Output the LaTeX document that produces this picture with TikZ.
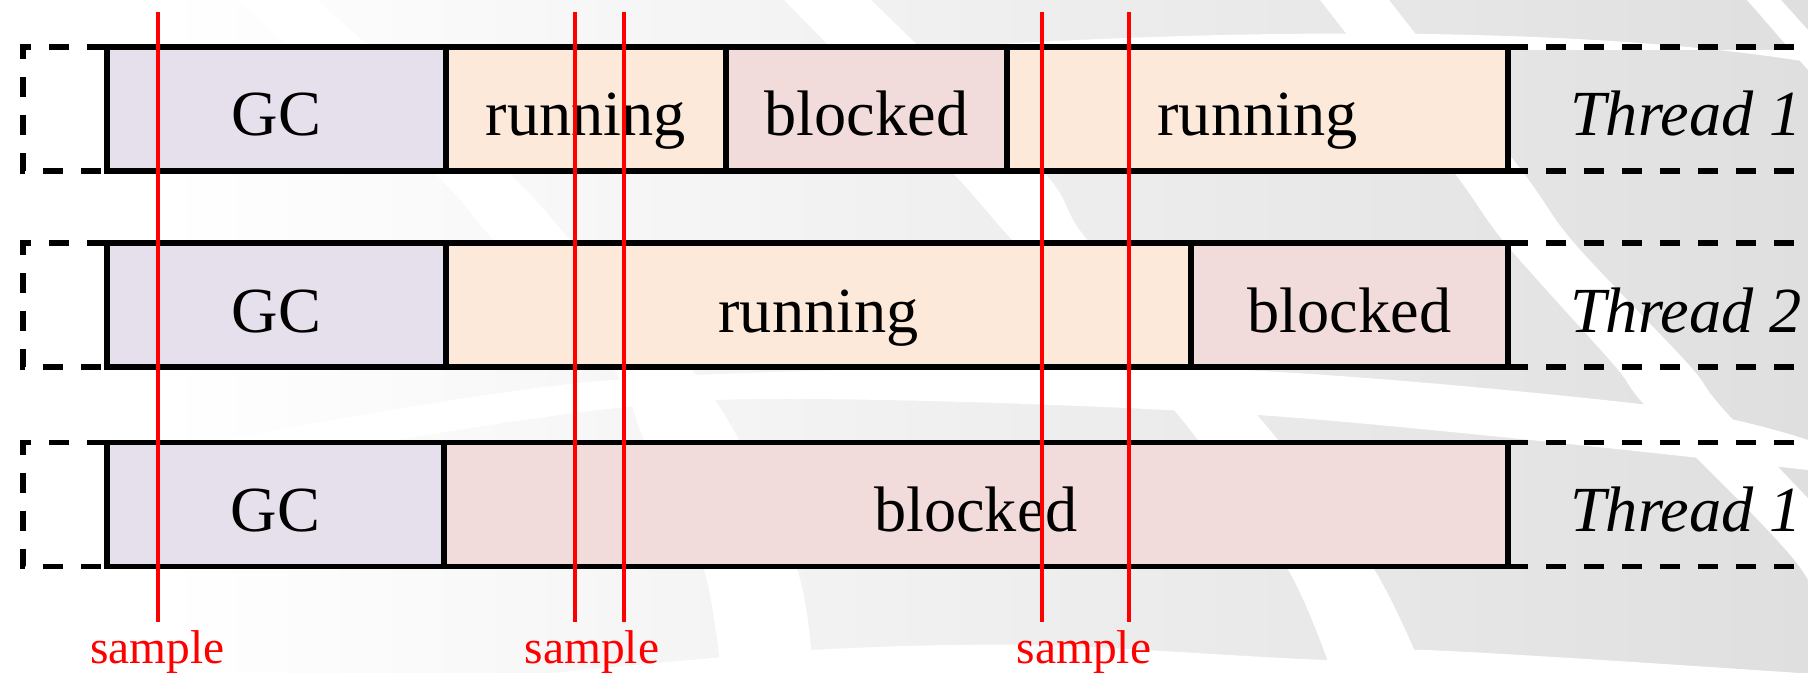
\documentclass[tikz,border=0pt]{standalone}
\usepackage{fontspec}
\setmainfont{Liberation Serif}
\usepackage{tikz}
\usetikzlibrary{positioning}
\usepackage{xcolor}
\definecolor{gcfill}{HTML}{E5E0EC}
\definecolor{runfill}{HTML}{FDE9D9}
\definecolor{blkfill}{HTML}{F2DCDB}
\definecolor{bggray}{HTML}{DFDFDF}

\begin{document}
\begin{tikzpicture}[
  cell/.style={draw=black, line width=1.7pt, minimum height=1.24cm, inner sep=0pt, outer sep=0pt,
    text height=0.54cm, text depth=0pt, font=\fontsize{18.3}{22}\selectfont},
  frame/.style={black, line width=1.7pt, dash pattern=on 0.2cm off 0.18cm},
  thread/.style={inner sep=0pt, text height=0.54cm, text depth=0pt, font=\fontsize{18.3}{22}\selectfont\itshape},
  sampleline/.style={red, line width=1.3pt},
  samplelbl/.style={red, anchor=base, inner sep=0pt, font=\fontsize{13.5}{16}\selectfont}]
\useasboundingbox (0,0) rectangle (18.08,-6.73);
%%%BACKGROUND
\shade[left color=white, right color=bggray] (1.6,0) rectangle (18.08,-6.73);
\fill[white] plot[smooth] coordinates {(2.36,0) (4.32,-1.71) (4.96,-2.43) (6.11,-3.65) (6.46,-4.45) (7.03,-5.66) (7.21,-6.73)}
  -- plot[smooth] coordinates {(8.13,-6.73) (7.96,-5.66) (7.15,-4.0) (5.73,-2.43) (5.07,-1.71) (3.17,0)} -- cycle;
\fill[white] plot[smooth] coordinates {(7.84,0) (9.51,-1.71) (10.15,-2.43) (11.70,-4.05) (12.86,-5.66) (13.32,-6.73)}
  -- plot[smooth] coordinates {(14.24,-6.73) (13.72,-5.66) (12.57,-4.15) (10.90,-2.43) (10.43,-1.71) (8.71,0)} -- cycle;
\fill[white] plot[smooth] coordinates {(13.20,0) (14.53,-1.71) (15.05,-2.43) (16.14,-3.65) (16.49,-4.10) (17.99,-5.66) (18.45,-6.73)}
  -- plot[smooth] coordinates {(19.2,-6.73) (18.68,-5.66) (17.24,-4.10) (16.89,-3.65) (15.74,-2.43) (15.22,-1.71) (13.89,0)} -- cycle;
\fill[white] (17.47,0) -- (17.81,0) -- (18.08,-0.3) -- (18.08,-0.7) -- cycle;
%%%SWOOSHES
\fill[white] (9.1,-0.5) .. controls (11.5,-0.32) and (15.5,-0.2) .. (18.08,-0.62) -- (18.08,-0.5) -- cycle;
\fill[white] plot[smooth] coordinates {(2.08,-4.43) (6.11,-3.80) (11.88,-3.68) (16.49,-4.05) (18.08,-4.40)}
  -- plot[smooth] coordinates {(18.08,-4.7) (12.57,-4.15) (7.15,-4.0) (3.7,-4.45)} -- cycle;
\fill[white] plot[smooth] coordinates {(5.53,-6.73) (8.13,-6.50) (10.38,-6.45) (13.32,-6.60) (14.24,-6.50) (17.99,-6.73)} -- cycle;
%%%THREAD ROWS
\node[cell, fill=gcfill, minimum width=3.39cm, anchor=west] (gc1) at (1.07,-1.09) {GC};
\node[cell, fill=runfill, minimum width=2.80cm, right=0pt of gc1] (run1a) {running};
\node[cell, fill=blkfill, minimum width=2.81cm, right=0pt of run1a] (blk1) {blocked};
\node[cell, fill=runfill, minimum width=5.01cm, right=0pt of blk1] (run1b) {running};
\node[cell, fill=gcfill, minimum width=3.39cm, anchor=west] (gc2) at (1.07,-3.05) {GC};
\node[cell, fill=runfill, minimum width=7.45cm, right=0pt of gc2] (run2) {running};
\node[cell, fill=blkfill, minimum width=3.17cm, right=0pt of run2] (blk2) {blocked};
\node[cell, fill=gcfill, minimum width=3.37cm, anchor=west] (gc3) at (1.07,-5.045) {GC};
\node[cell, fill=blkfill, minimum width=10.64cm, right=0pt of gc3] (blk3) {blocked};
%%%TIME OUTSIDE THE WINDOW
\foreach \a/\b in {gc1/run1b, gc2/blk2, gc3/blk3} {
  \draw[frame] (\a.north west) -- ++(-0.84,0) |- (\a.south west);
  \draw[frame] (\b.north east) -- ++(3.1,0);
  \draw[frame] (\b.south east) -- ++(3.1,0);
}
%%%THREAD NAMES
\node[thread] (t1) at (16.86,-1.09) {Thread 1};
\node[thread] (t2) at (16.86,-3.05) {Thread 2};
\node[thread] (t3) at (16.86,-5.045) {Thread 1};
%%%SAMPLING POINTS
\foreach \x [count=\i] in {1.58,5.75,6.24,10.42,11.29} {
  \coordinate (st\i) at (\x,-0.12);
  \coordinate (sb\i) at (\x,-6.22);
  \draw[sampleline] (st\i) -- (sb\i);
}
\node[samplelbl] (smp1) at (1.575,-6.63) {sample};
\node[samplelbl] (smp2) at (5.92,-6.63) {sample};
\node[samplelbl] (smp3) at (10.84,-6.63) {sample};
\end{tikzpicture}
\end{document}
